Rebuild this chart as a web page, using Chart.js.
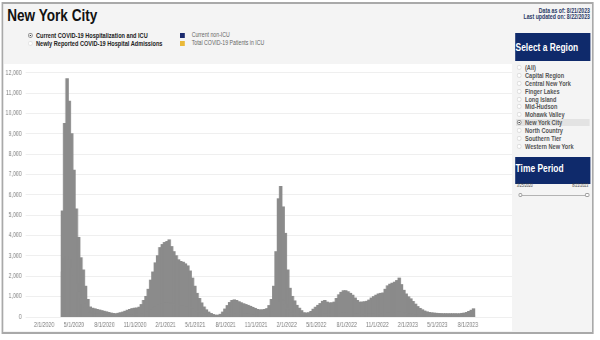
<!DOCTYPE html>
<html>
<head>
<meta charset="utf-8">
<script src="https://cdn.jsdelivr.net/npm/chart.js@4.4.1/dist/chart.umd.min.js"></script>
<style>
  html, body { margin:0; padding:0; background:#fff; width:600px; height:340px; overflow:hidden; }
  #page { position:absolute; left:0; top:0; width:750px; height:340px; transform:scaleX(0.8); transform-origin:0 0;
          font-family: Arial, "Liberation Sans", sans-serif; }
  .t { position:absolute; white-space:nowrap; line-height:1; }
  .box { position:absolute; box-sizing:border-box; }
  .rad { position:absolute; box-sizing:border-box; border-radius:50%; background:#fff; }
</style>
</head>
<body>
<div id="page">
  <div class="box" style="left:2px;top:2px;width:740px;height:332px;border:2px solid #a9a9a9;background:#f4f4f4;"></div>
  <div class="box" style="left:5px;top:64px;width:635px;height:267px;background:#fff;"></div>

  <div class="t" style="left:9px;top:7.2px;font-size:17px;font-weight:bold;color:#111;">New York City</div>

  <div class="rad" style="left:35px;top:33px;width:6.25px;height:5px;border:1px solid #888;"></div>
  <div class="rad" style="left:37.1px;top:34.6px;width:2.2px;height:1.8px;background:#333;"></div>
  <div class="t" style="left:45px;top:32px;font-size:7px;font-weight:bold;color:#222;">Current COVID-19 Hospitalization and ICU</div>
  <div class="rad" style="left:35px;top:41px;width:6.25px;height:5px;border:1px solid #e2e2e2;"></div>
  <div class="t" style="left:45px;top:40px;font-size:7px;font-weight:bold;color:#222;">Newly Reported COVID-19 Hospital Admissions</div>

  <div class="box" style="left:225px;top:33.3px;width:6.25px;height:4.6px;background:#1b2a6e;"></div>
  <div class="t" style="left:239.6px;top:32.25px;font-size:6.5px;color:#666;">Current non-ICU</div>
  <div class="box" style="left:225px;top:40.8px;width:6.25px;height:4.8px;background:#eab938;"></div>
  <div class="t" style="left:239.6px;top:39.95px;font-size:6.5px;color:#666;">Total COVID-19 Patients in ICU</div>

  <div class="t" style="right:12.5px;top:7.75px;font-size:6.5px;font-weight:bold;color:#2b3a66;">Data as of: 8/21/2023</div>
  <div class="t" style="right:12.5px;top:14.05px;font-size:6.5px;font-weight:bold;color:#2b3a66;">Last updated on: 8/22/2023</div>

  <div class="box" style="left:643.75px;top:32.7px;width:93.75px;height:28px;background:#0f2a6b;"></div>
  <div class="t" style="left:644.5px;top:42px;font-size:10.5px;font-weight:bold;color:#fff;">Select a Region</div>
  <div id="regions"></div>

  <div class="box" style="left:643.75px;top:156.7px;width:93.75px;height:27.3px;background:#0f2a6b;"></div>
  <div class="t" style="left:644.5px;top:162.75px;font-size:10.5px;font-weight:bold;color:#fff;">Time Period</div>
  <div class="t" style="left:646px;top:183.75px;font-size:4.5px;color:#444;">3/25/2020</div>
  <div class="t" style="right:14.6px;top:183.75px;font-size:4.5px;color:#444;">8/21/2023</div>
  <div class="box" style="left:650px;top:194.5px;width:84px;height:1px;background:#b3b3b3;"></div>
  <div class="rad" style="left:647.6px;top:192.6px;width:5.9px;height:4.7px;border:1px solid #9a9a9a;"></div>
  <div class="rad" style="left:730.8px;top:192.6px;width:5.9px;height:4.7px;border:1px solid #9a9a9a;"></div>

  <canvas id="c" width="635" height="267" style="position:absolute;left:5px;top:64px;width:635px;height:267px;"></canvas>
</div>

<script>
// ---- data (weekly) ----
const weekDates = [
 '3/27/2020','4/3/2020','4/10/2020','4/17/2020','4/24/2020','5/1/2020','5/8/2020','5/15/2020','5/22/2020','5/29/2020',
 '6/5/2020','6/12/2020','6/19/2020','6/26/2020','7/3/2020','7/10/2020','7/17/2020','7/24/2020','7/31/2020','8/7/2020',
 '8/14/2020','8/21/2020','8/28/2020','9/4/2020','9/11/2020','9/18/2020','9/25/2020','10/2/2020','10/9/2020','10/16/2020',
 '10/23/2020','10/30/2020','11/6/2020','11/13/2020','11/20/2020','11/27/2020','12/4/2020','12/11/2020','12/18/2020','12/25/2020',
 '1/1/2021','1/8/2021','1/15/2021','1/22/2021','1/29/2021','2/5/2021','2/12/2021','2/19/2021','2/26/2021','3/5/2021',
 '3/12/2021','3/19/2021','3/26/2021','4/2/2021','4/9/2021','4/16/2021','4/23/2021','4/30/2021','5/7/2021','5/14/2021',
 '5/21/2021','5/28/2021','6/4/2021','6/11/2021','6/18/2021','6/25/2021','7/2/2021','7/9/2021','7/16/2021','7/23/2021',
 '7/30/2021','8/6/2021','8/13/2021','8/20/2021','8/27/2021','9/3/2021','9/10/2021','9/17/2021','9/24/2021','10/1/2021',
 '10/8/2021','10/15/2021','10/22/2021','10/29/2021','11/5/2021','11/12/2021','11/19/2021','11/26/2021','12/3/2021','12/10/2021',
 '12/17/2021','12/24/2021','12/31/2021','1/7/2022','1/14/2022','1/21/2022','1/28/2022','2/4/2022','2/11/2022','2/18/2022',
 '2/25/2022','3/4/2022','3/11/2022','3/18/2022','3/25/2022','4/1/2022','4/8/2022','4/15/2022','4/22/2022','4/29/2022',
 '5/6/2022','5/13/2022','5/20/2022','5/27/2022','6/3/2022','6/10/2022','6/17/2022','6/24/2022','7/1/2022','7/8/2022',
 '7/15/2022','7/22/2022','7/29/2022','8/5/2022','8/12/2022','8/19/2022','8/26/2022','9/2/2022','9/9/2022','9/16/2022',
 '9/23/2022','9/30/2022','10/7/2022','10/14/2022','10/21/2022','10/28/2022','11/4/2022','11/11/2022','11/18/2022','11/25/2022',
 '12/2/2022','12/9/2022','12/16/2022','12/23/2022','12/30/2022','1/6/2023','1/13/2023','1/20/2023','1/27/2023','2/3/2023',
 '2/10/2023','2/17/2023','2/24/2023','3/3/2023','3/10/2023','3/17/2023','3/24/2023','3/31/2023','4/7/2023','4/14/2023',
 '4/21/2023','4/28/2023','5/5/2023','5/12/2023','5/19/2023','5/26/2023','6/2/2023','6/9/2023','6/16/2023','6/23/2023',
 '6/30/2023','7/7/2023','7/14/2023','7/21/2023','7/28/2023','8/4/2023','8/11/2023','8/18/2023'
];

// total patients hospitalized (non-ICU + ICU)
const totalHospitalized = [
 5200, 9500, 11700, 10600, 9000, 7200, 5300, 3900, 2900, 2300,
 1500, 850, 480, 420, 390, 360, 330, 300, 270, 240,
 210, 180, 160, 150, 170, 200, 230, 270, 320, 360,
 400, 420, 430, 470, 600, 800, 1000, 1350, 1800, 2200,
 2650, 3000, 3400, 3550, 3650, 3700, 3780, 3450, 3200, 3000,
 2800, 2720, 2680, 2600, 2500, 2250, 1900, 1500, 1150, 900,
 680, 480, 340, 230, 160, 110, 80, 75, 120, 230,
 380, 550, 700, 800, 830, 800, 740, 690, 640, 600,
 560, 510, 460, 410, 360, 340, 340, 360, 400, 550,
 850, 1500, 3200, 5800, 6400, 5400, 4100, 2300, 1400, 1000,
 780, 560, 420, 300, 200, 180, 200, 260, 370, 470,
 560, 650, 760, 800, 720, 680, 690, 720, 900, 1080,
 1200, 1280, 1280, 1230, 1150, 1060, 920, 800, 720, 720,
 740, 760, 820, 920, 990, 1060, 1120, 1150, 1170, 1350,
 1520, 1600, 1650, 1700, 1780, 1900, 1580, 1300, 1120, 980,
 880, 750, 620, 500, 410, 340, 280, 240, 210, 195,
 180, 170, 160, 155, 150, 150, 150, 148, 150, 150,
 145, 150, 165, 180, 210, 260, 320, 390
];

// patients in ICU
const icuPatients = [
 2200, 2900, 3000, 2800, 2400, 2000, 1600, 1200, 900, 650,
 450, 300, 200, 150, 130, 120, 110, 100, 90, 80,
 70, 60, 55, 50, 50, 55, 60, 70, 80, 90,
 95, 100, 105, 110, 130, 160, 200, 260, 340, 410,
 480, 540, 600, 640, 660, 670, 680, 640, 600, 570,
 540, 520, 510, 500, 480, 440, 380, 310, 250, 200,
 160, 120, 90, 65, 45, 35, 25, 25, 35, 55,
 80, 110, 140, 160, 165, 160, 150, 140, 130, 120,
 115, 105, 95, 85, 75, 70, 70, 75, 80, 100,
 140, 220, 420, 700, 820, 780, 600, 400, 260, 190,
 150, 110, 85, 65, 45, 40, 40, 50, 65, 80,
 90, 100, 110, 115, 110, 105, 105, 110, 130, 150,
 160, 170, 170, 165, 155, 145, 130, 115, 105, 105,
 105, 110, 115, 125, 135, 140, 145, 150, 150, 170,
 190, 200, 205, 210, 215, 225, 200, 170, 150, 135,
 120, 105, 90, 75, 65, 55, 45, 40, 36, 34,
 32, 30, 29, 28, 27, 27, 26, 26, 26, 26,
 25, 26, 28, 30, 34, 40, 48, 56
];

const xTickLabels = ['2/1/2020','5/1/2020','8/1/2020','11/1/2020','2/1/2021','5/1/2021','8/1/2021','11/1/2021',
  '2/1/2022','5/1/2022','8/1/2022','11/1/2022','2/1/2023','5/1/2023','8/1/2023'];
const xAxisStart = '1/25/2020';
const xAxisEnd = '10/24/2023';

const regionNames = ['(All)','Capital Region','Central New York','Finger Lakes','Long Island','Mid-Hudson',
  'Mohawk Valley','New York City','North Country','Southern Tier','Western New York'];
const selectedRegion = 'New York City';

// ---- region list ----
const reg = document.getElementById('regions');
regionNames.forEach((name, i) => {
  const cy = 67.7 + 7.83 * i;
  const sel = name === selectedRegion;
  if (sel) {
    const hl = document.createElement('div');
    hl.className = 'box';
    hl.style.cssText = `left:645px;top:${cy - 3.9}px;width:91.5px;height:7.8px;background:#e3e3e3;`;
    reg.appendChild(hl);
  }
  const c = document.createElement('div');
  c.className = 'rad';
  c.style.cssText = `left:645.9px;top:${cy - 2.5}px;width:6.25px;height:5px;border:1px solid ${sel ? '#888' : '#dcdcdc'};`;
  reg.appendChild(c);
  if (sel) {
    const d = document.createElement('div');
    d.className = 'rad';
    d.style.cssText = `left:648px;top:${cy - 0.9}px;width:2.2px;height:1.8px;background:#333;`;
    reg.appendChild(d);
  }
  const t = document.createElement('div');
  t.className = 't';
  t.style.cssText = `left:656.25px;top:${cy - 3.5}px;font-size:7px;font-weight:bold;color:#555;`;
  t.textContent = name;
  reg.appendChild(t);
});

// ---- chart ----
const toDay = s => { const [m, d, y] = s.split('/').map(Number); return Date.UTC(y, m - 1, d) / 86400000; };
const tickByDay = {};
xTickLabels.forEach(s => { tickByDay[toDay(s)] = s; });

const totalPoints = weekDates.map((s, i) => ({ x: toDay(s), y: totalHospitalized[i] }));
const icuPoints = weekDates.map((s, i) => ({ x: toDay(s), y: icuPatients[i] }));

Chart.defaults.font.family = 'Arial, "Liberation Sans", sans-serif';

new Chart(document.getElementById('c'), {
  type: 'bar',
  data: {
    datasets: [
      { label: 'Total COVID-19 Patients in ICU', data: icuPoints, order: 0, grouped: false,
        backgroundColor: '#8b8b8b', borderWidth: 0, inflateAmount: 0.7,
        barPercentage: 1, categoryPercentage: 1 },
      { label: 'Current non-ICU', data: totalPoints, order: 1, grouped: false,
        backgroundColor: '#8b8b8b', borderWidth: 0, inflateAmount: 0.7,
        barPercentage: 1, categoryPercentage: 1 }
    ]
  },
  options: {
    responsive: false,
    animation: false,
    plugins: { legend: { display: false }, tooltip: { enabled: false } },
    layout: { padding: { top: 8.5, left: 0, right: 0, bottom: 0 } },
    scales: {
      x: {
        type: 'linear',
        min: toDay(xAxisStart), max: toDay(xAxisEnd),
        grid: { display: false, drawTicks: false },
        border: { display: false },
        afterBuildTicks: s => { s.ticks = xTickLabels.map(t => ({ value: toDay(t) })); },
        afterFit: s => { s.height = 14; },
        ticks: { autoSkip: false, maxRotation: 0, minRotation: 0, padding: 4, color: '#7a7a7a',
                 font: { size: 6.5 }, callback: v => tickByDay[v] || '' }
      },
      y: {
        min: 0, max: 12000,
        grid: { color: '#efefef', drawTicks: false },
        border: { display: false },
        afterFit: s => { s.width = 27; },
        ticks: { stepSize: 1000, padding: 5, color: '#7a7a7a', font: { size: 6.5 },
                 callback: v => v.toLocaleString('en-US') }
      }
    }
  }
});
</script>
</body>
</html>
